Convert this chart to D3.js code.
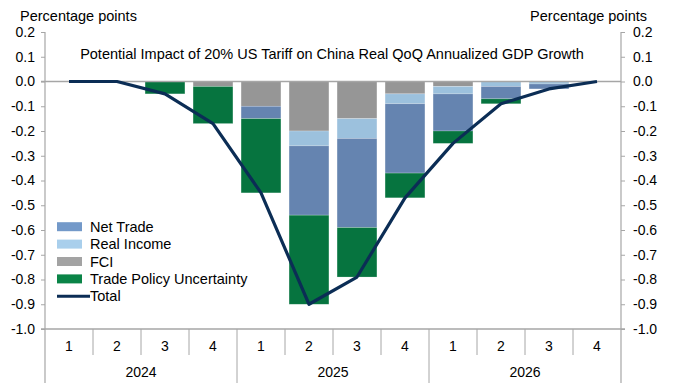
<!DOCTYPE html>
<html>
<head>
<meta charset="utf-8">
<script src="https://cdn.jsdelivr.net/npm/d3@7"></script>
<style>
  html, body { margin: 0; padding: 0; background: #fff; }
  svg { display: block; font-family: "Liberation Sans", Arial, sans-serif; }
</style>
</head>
<body>
<svg id="chart" width="673" height="383"></svg>
<script>
// Quarters and years on the category axis
const quarters = ["1", "2", "3", "4", "1", "2", "3", "4", "1", "2", "3", "4"];
const years = ["2024", "2025", "2026"];

// Contributions to real QoQ annualized GDP growth (pp)
const fci = [0, 0, 0, -0.02, -0.10, -0.20, -0.15, -0.05, -0.02, 0, 0, 0];
const realIncome = [0, 0, 0, 0, 0, -0.06, -0.08, -0.04, -0.03, -0.02, -0.01, 0];
const netTrade = [0, 0, 0, 0, -0.05, -0.28, -0.36, -0.28, -0.15, -0.05, -0.02, 0];
const tradePolicyUncertainty = [0, 0, -0.05, -0.15, -0.30, -0.36, -0.20, -0.10, -0.05, -0.02, 0, 0];
const total = [0, 0, -0.05, -0.17, -0.45, -0.90, -0.79, -0.47, -0.25, -0.09, -0.03, 0];

const yTicks = [0.2, 0.1, 0.0, -0.1, -0.2, -0.3, -0.4, -0.5, -0.6, -0.7, -0.8, -0.9, -1.0];

const title = "Potential Impact of 20% US Tariff on China Real QoQ Annualized GDP Growth";
const unitLabel = "Percentage points";

// Stack order from zero downwards
const stackSeries = [
  { name: "FCI", values: fci, color: "#969696" },
  { name: "Real Income", values: realIncome, color: "#9CC1DD" },
  { name: "Net Trade", values: netTrade, color: "#6584B0" },
  { name: "Trade Policy Uncertainty", values: tradePolicyUncertainty, color: "#06743F" }
];
const legendOrder = ["Net Trade", "Real Income", "FCI", "Trade Policy Uncertainty"];
const legendColors = { "Net Trade": "#7399C9", "Real Income": "#A9CFEC", "FCI": "#A3A3A3", "Trade Policy Uncertainty": "#0A8447" };
const lineColor = "#0B2D55";
const axisColor = "#A6A6A6";

const svg = d3.select("#chart");
const plotLeft = 45, plotRight = 621, plotTop = 32, plotBottom = 329;

const idx = d3.range(quarters.length);
const x = d3.scaleBand().domain(idx).range([plotLeft, plotRight]).paddingInner(0.17).paddingOuter(0.085);
const step = (plotRight - plotLeft) / quarters.length;
const xc = i => plotLeft + step * (i + 0.5);
const y = d3.scaleLinear().domain([-1.0, 0.2]).range([plotBottom, plotTop]);

// Stacked bars (all contributions are negative, stacked down from zero)
const stackData = idx.map(i => {
  const o = { i };
  stackSeries.forEach(s => { o[s.name] = s.values[i]; });
  return o;
});
const stack = d3.stack().keys(stackSeries.map(s => s.name)).offset(d3.stackOffsetDiverging);
const layers = stack(stackData);

svg.append("g").selectAll("g")
  .data(layers)
  .join("g")
  .attr("fill", (d, k) => stackSeries[k].color)
  .selectAll("rect")
  .data(d => d.filter(p => p[1] - p[0] !== 0))
  .join("rect")
  .attr("x", p => x(p.data.i))
  .attr("width", x.bandwidth())
  .attr("y", p => y(Math.max(p[0], p[1])))
  .attr("height", p => Math.abs(y(p[0]) - y(p[1])))
  .attr("stroke", "rgba(255,255,255,0.35)")
  .attr("stroke-width", 0.6);

// Zero line
svg.append("line")
  .attr("x1", plotLeft - 4).attr("x2", plotRight)
  .attr("y1", y(0)).attr("y2", y(0))
  .attr("stroke", axisColor).attr("stroke-width", 1.5);

// Left and right value axes
const fmt = d => d3.format(".1f")(d).replace("−", "-");
const yAxisL = d3.axisLeft(y).tickValues(yTicks).tickFormat(fmt).tickSize(4).tickPadding(6);
const yAxisR = d3.axisRight(y).tickValues(yTicks).tickFormat(fmt).tickSize(4).tickPadding(8);

function styleAxis(g) {
  g.select(".domain").remove();
  g.selectAll(".tick line").attr("stroke", axisColor).attr("stroke-width", 1);
  g.selectAll(".tick text")
    .attr("fill", "#000")
    .style("font-size", "14px")
    .style("font-family", "\"Liberation Sans\", Arial, sans-serif");
}
svg.append("g").attr("transform", `translate(${plotLeft},0)`).call(yAxisL).call(styleAxis);
svg.append("g").attr("transform", `translate(${plotRight},0)`).call(yAxisR).call(styleAxis)
  .selectAll(".tick text").attr("x", 12);

// Vertical axis lines, extended to the bottom as year separators
svg.append("line").attr("x1", plotLeft).attr("x2", plotLeft).attr("y1", plotTop).attr("y2", 383)
  .attr("stroke", axisColor).attr("stroke-width", 1.2);
svg.append("line").attr("x1", plotRight).attr("x2", plotRight).attr("y1", plotTop).attr("y2", 383)
  .attr("stroke", axisColor).attr("stroke-width", 1.2);

// Category axis at the bottom
svg.append("line").attr("x1", plotLeft - 4).attr("x2", plotRight + 4).attr("y1", plotBottom).attr("y2", plotBottom)
  .attr("stroke", axisColor).attr("stroke-width", 1.5);

idx.forEach(i => {
  if (i > 0) {
    const bx = plotLeft + step * i;
    const isYear = i % 4 === 0;
    svg.append("line").attr("x1", bx).attr("x2", bx)
      .attr("y1", plotBottom).attr("y2", isYear ? 383 : 355)
      .attr("stroke", axisColor).attr("stroke-width", 1);
  }
  svg.append("text")
    .attr("x", xc(i)).attr("y", 351)
    .attr("text-anchor", "middle")
    .style("font-size", "14px")
    .text(quarters[i]);
});
years.forEach((yr, k) => {
  svg.append("text")
    .attr("x", plotLeft + step * (4 * k + 2)).attr("y", 377)
    .attr("text-anchor", "middle")
    .style("font-size", "14px")
    .text(yr);
});

// Total line
const line = d3.line().x((d, i) => xc(i)).y(d => y(d));
svg.append("path")
  .datum(total)
  .attr("d", line)
  .attr("fill", "none")
  .attr("stroke", lineColor)
  .attr("stroke-width", 3.2)
  .attr("stroke-linejoin", "round");

// Unit labels and title
svg.append("text").attr("x", 20).attr("y", 21).style("font-size", "14.5px").text(unitLabel);
svg.append("text").attr("x", 647).attr("y", 21).attr("text-anchor", "end").style("font-size", "14.5px").text(unitLabel);
svg.append("text").attr("x", 332).attr("y", 59).attr("text-anchor", "middle").style("font-size", "14.5px").text(title);

// Legend
const legend = svg.append("g").attr("transform", "translate(57,0)");
legendOrder.forEach((name, k) => {
  const cy = 226.7 + k * 17.4;
  legend.append("rect").attr("x", 0).attr("y", cy - 4.5).attr("width", 25).attr("height", 9)
    .attr("fill", legendColors[name]);
  legend.append("text").attr("x", 33).attr("y", cy + 5).style("font-size", "14.5px").text(name);
});
const ly = 226.7 + 4 * 17.4;
legend.append("line").attr("x1", 0).attr("x2", 33).attr("y1", ly).attr("y2", ly)
  .attr("stroke", lineColor).attr("stroke-width", 3);
legend.append("text").attr("x", 33).attr("y", ly + 5).style("font-size", "14.5px").text("Total");
</script>
</body>
</html>
